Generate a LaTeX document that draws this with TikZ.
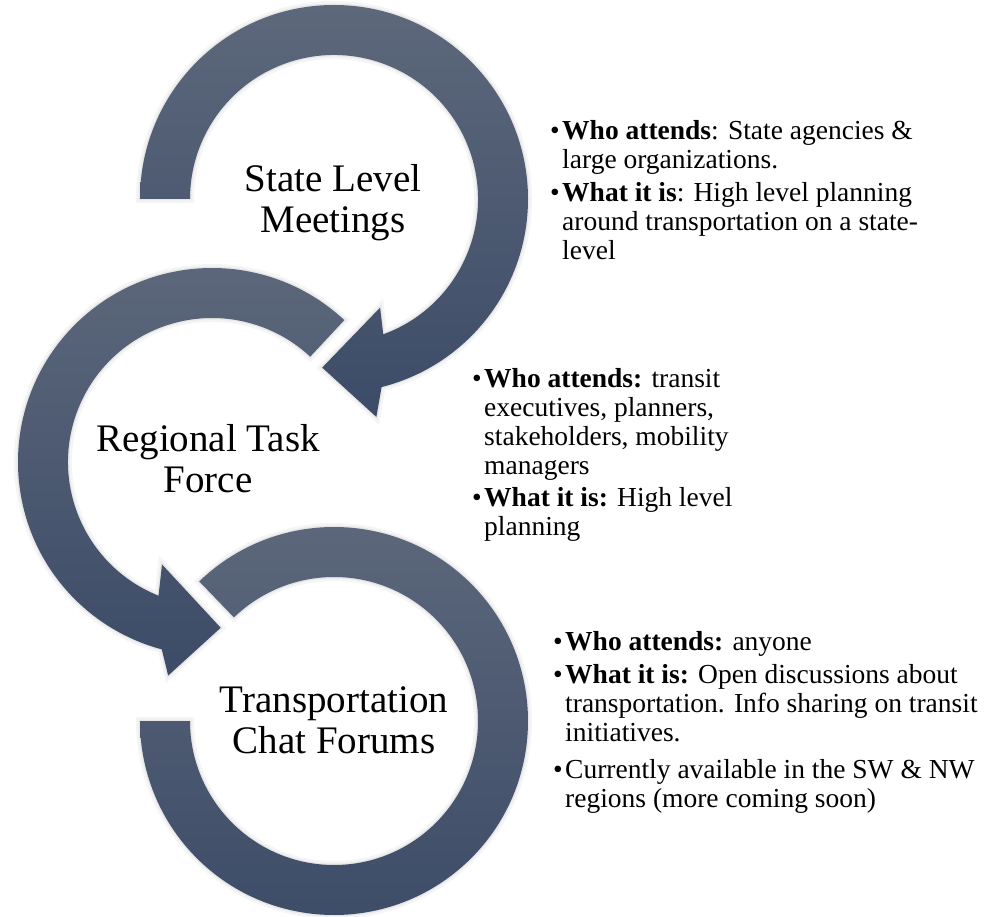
\documentclass[tikz,border=0pt]{standalone}
\usepackage{fontspec}
\setmainfont{Liberation Serif}
\usepackage{xcolor}
\usepackage{tikz}

\definecolor{ringtop}{RGB}{93,104,123}
\definecolor{ringbottom}{RGB}{60,75,103}

\begin{document}
\begin{tikzpicture}[
                x=1pt, y=1pt,
                ring/.style={top color=ringtop, bottom color=ringbottom,
                    preaction={draw=black, opacity=0.04, line width=8pt},
                    preaction={draw=black, opacity=0.06, line width=3pt}},
                ringlabel/.style={align=center, inner sep=0pt, font=\fontsize{39}{41}\selectfont},
                infolist/.style={anchor=base west, inner sep=0pt, font=\fontsize{27.5}{29}\selectfont}
            ]
                \useasboundingbox (0,0) rectangle (986,-917);

                % Ring centres
                \coordinate (c1) at (334,-199);
                \coordinate (c2) at (212,-462);
                \coordinate (c3) at (334,-721);

                % Rings
                \path[ring, shift={(c1)}]
                    (180:194) arc[start angle=180, end angle=-75.8, radius=194]
                    -- (-79:222) -- (-94:169) -- (-67:118)
                    -- (-70:144) arc[start angle=-70, end angle=180, radius=144] -- cycle;
                \path[ring, shift={(c2)}]
                    (47:194) arc[start angle=47, end angle=255, radius=194]
                    -- (258.4:218) -- (273:166) -- (244:114)
                    -- (248.2:144) arc[start angle=248.2, end angle=47, radius=144] -- cycle;
                \path[ring, shift={(c3)}]
                    (134:194) arc[start angle=134, end angle=-180, radius=194]
                    -- (180:144) arc[start angle=-180, end angle=134, radius=144] -- cycle;

                % Ring labels
                \node[ringlabel] (state) at (333,-202.5) {State Level\\Meetings};
                \node[ringlabel] (regional) at (208,-459) {Regional Task\\Force};
                \node[ringlabel] (forums) at (334,-720.5) {Transportation\\Chat Forums};

                % Details
                \node[infolist] (stateinfo) at (550,-140) {\begin{tabular}[t]{@{}l@{\hspace{2.4pt}}l@{}}
                    \textbullet & \textbf{Who attends}: State agencies \& \\
                    & large organizations.\\[4pt]
                    \textbullet & \textbf{What it is}: High level planning\\
                    & around transportation on a state-\\
                    & level
                \end{tabular}};
                \node[infolist] (regionalinfo) at (472,-388) {\begin{tabular}[t]{@{}l@{\hspace{2.4pt}}l@{}}
                    \textbullet & \textbf{Who attends:} transit\\
                    & executives, planners,\\
                    & stakeholders, mobility\\
                    & managers\\[3pt]
                    \textbullet & \textbf{What it is:} High level\\
                    & planning
                \end{tabular}};
                \node[infolist] (forumsinfo) at (553,-650) {\begin{tabular}[t]{@{}l@{\hspace{2.4pt}}l@{}}
                    \textbullet & \textbf{Who attends:} anyone\\[4pt]
                    \textbullet & \textbf{What it is:} Open discussions about\\
                    & transportation. Info sharing on transit\\
                    & initiatives.\\[8pt]
                    \textbullet & Currently available in the SW \& NW\\
                    & regions (more coming soon)
                \end{tabular}};
            \end{tikzpicture}
\end{document}
